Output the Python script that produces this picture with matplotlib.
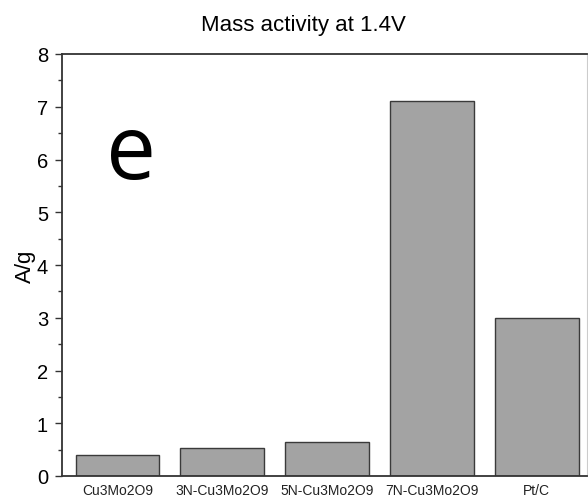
import matplotlib
matplotlib.use("Agg")
import matplotlib.pyplot as plt
from matplotlib.ticker import MultipleLocator

categories = ["Cu3Mo2O9", "3N-Cu3Mo2O9", "5N-Cu3Mo2O9", "7N-Cu3Mo2O9", "Pt/C"]
mass_activity = [0.40, 0.53, 0.65, 7.11, 3.00]

plt.rcParams["font.family"] = ["Liberation Sans", "DejaVu Sans"]

fig = plt.figure(figsize=(5.88, 5.02), dpi=100)
W, H = 588, 502
ax = fig.add_axes([62 / W, 1 - 477 / H, (587 - 62) / W, (477 - 55) / H])

x = range(len(categories))
ax.bar(x, mass_activity, width=0.8, color="#a3a3a3", edgecolor="#3a3a3a", linewidth=1.0)

ax.set_xlim(-0.53, 4.48)
ax.set_ylim(0, 8)
ax.set_xticks(list(x))
ax.set_xticklabels(categories, fontsize=10, color="#222222")
ax.tick_params(axis="x", length=0, pad=5)
ax.yaxis.set_major_locator(MultipleLocator(1))
ax.yaxis.set_minor_locator(MultipleLocator(0.5))
ax.tick_params(axis="y", which="major", direction="out", length=5, width=1, labelsize=14.5,
               color="#333333", pad=5)
ax.tick_params(axis="y", which="minor", direction="out", length=3, width=1, color="#333333")
ax.set_ylabel("A/g", fontsize=16, labelpad=1)

for side in ["left", "bottom", "top"]:
    ax.spines[side].set_color("#333333")
    ax.spines[side].set_linewidth(1.3)
ax.spines["right"].set_color("#cccccc")
ax.spines["right"].set_linewidth(0.8)

fig.text(303 / W, 1 - 25 / H, "Mass activity at 1.4V", ha="center", va="center", fontsize=16)
fig.text(131 / W, 1 - 156 / H, "e", ha="center", va="center",
         fontsize=64, family=["Open Sans", "DejaVu Sans"])

fig.savefig("out.png", dpi=100)
